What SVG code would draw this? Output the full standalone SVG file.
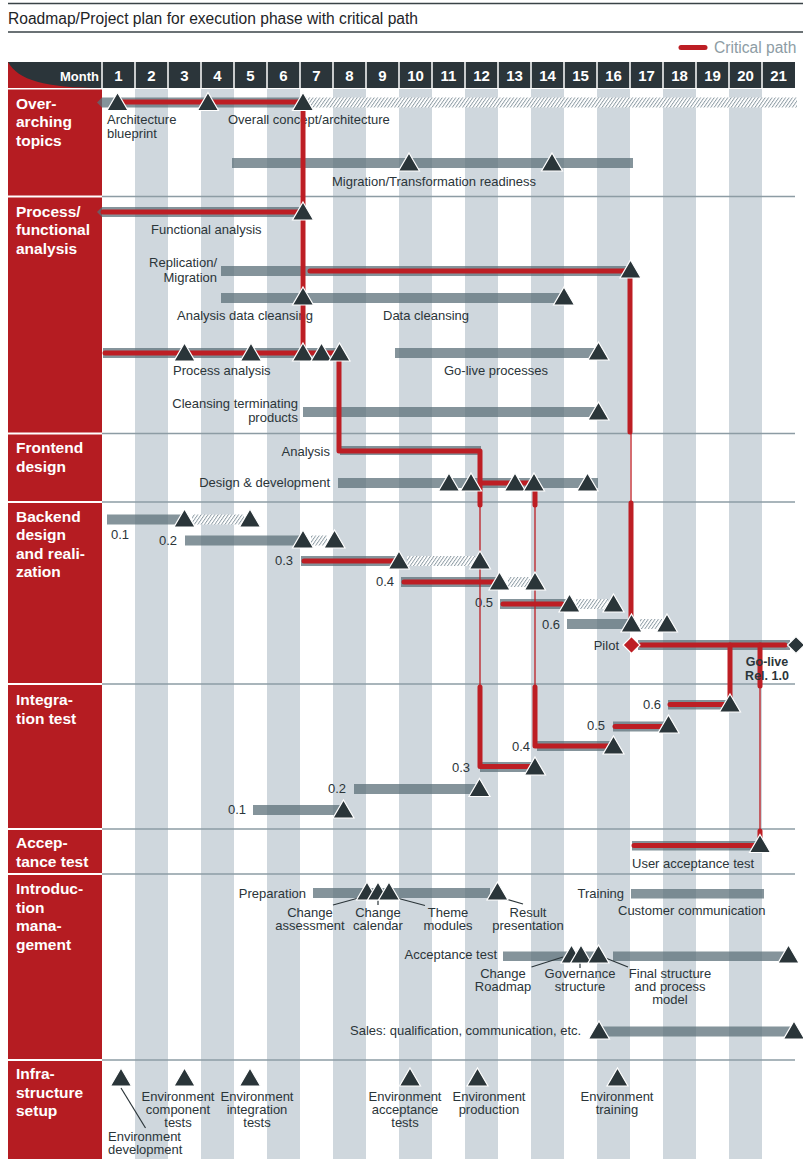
<svg xmlns="http://www.w3.org/2000/svg" xmlns:xlink="http://www.w3.org/1999/xlink" width="803" height="1159" viewBox="0 0 803 1159">
  <style>
    .txt{font-family:"Liberation Sans",Arial,sans-serif;font-size:13px;fill:#2b3539}
    .mid{text-anchor:middle}
    .end{text-anchor:end}
    .sec{font-family:"Liberation Sans",Arial,sans-serif;font-size:15.5px;font-weight:bold;fill:#fff}
    .mon{font-family:"Liberation Sans",Arial,sans-serif;font-size:15px;font-weight:bold;fill:#fff;text-anchor:middle}
    .stripe{fill:#cfd7dd}
    .rule{stroke:#8d9ca4;stroke-width:1.4}
    .wrule{stroke:#fff;stroke-width:2}
    .bar{fill:#5a6f78;fill-opacity:.74}
    .hatch{fill:url(#hatch)}
    .crit{stroke:#bd1e24;stroke-width:5;stroke-linecap:round;stroke-linejoin:round;fill:none}
    .thin{stroke:#bd1e24;stroke-width:1.3;fill:none}
    .ms{fill:#2a3539;stroke:#fff;stroke-width:1.2}
    .lead{stroke:#2b3539;stroke-width:1.2;fill:none}
  </style>
  <defs>
    <pattern id="hatch" width="3.4" height="12" patternUnits="userSpaceOnUse" patternTransform="skewX(-35)">
      <rect width="3.4" height="12" fill="#fff"/>
      <rect x="0" y="0" width="1.1" height="12" fill="#8d9ca4"/>
    </pattern>
    <path id="tri" d="M0,-10 L10.5,8 L-10.5,8 Z"/>
    <path id="dia" d="M0,-8.5 L8.5,0 L0,8.5 L-8.5,0 Z"/>
  </defs>

  <rect width="803" height="1159" fill="#fff"/>

  <!-- title block -->
  <g id="title">
    <line x1="8" y1="3.5" x2="803" y2="3.5" stroke="#3a4347" stroke-width="1.4"/>
    <text x="8" y="24" style="font-family:'Liberation Sans',Arial,sans-serif;font-size:15.6px;fill:#1e2427">Roadmap/Project plan for execution phase with critical path</text>
    <line x1="8" y1="32" x2="803" y2="32" stroke="#3a4347" stroke-width="1.4"/>
  </g>

  <!-- legend -->
  <g id="legend">
    <line x1="681" y1="47.5" x2="705" y2="47.5" stroke="#bd1e24" stroke-width="5" stroke-linecap="round"/>
    <text x="714" y="53" style="font-family:'Liberation Sans',Arial,sans-serif;font-size:15.6px;fill:#8d9ca4">Critical path</text>
  </g>

  <!-- month stripes -->
  <g id="stripes">
    <rect class="stripe" x="135" y="89" width="33" height="1070"/>
    <rect class="stripe" x="201" y="89" width="33" height="1070"/>
    <rect class="stripe" x="267" y="89" width="33" height="1070"/>
    <rect class="stripe" x="333" y="89" width="33" height="1070"/>
    <rect class="stripe" x="399" y="89" width="33" height="1070"/>
    <rect class="stripe" x="465" y="89" width="33" height="1070"/>
    <rect class="stripe" x="531" y="89" width="33" height="1070"/>
    <rect class="stripe" x="597" y="89" width="33" height="1070"/>
    <rect class="stripe" x="663" y="89" width="33" height="1070"/>
    <rect class="stripe" x="729" y="89" width="33" height="1070"/>
  </g>

  <!-- header row -->
  <g id="header">
    <rect x="8" y="62" width="787" height="26" fill="#2b353a"/>
    <path d="M8,62 C18,80 45,88 102,88 L8,88 Z" fill="#b51c22"/>
    <g stroke="#fff" stroke-width="1.5">
      <line x1="102" y1="62" x2="102" y2="88"/><line x1="135" y1="62" x2="135" y2="88"/>
      <line x1="168" y1="62" x2="168" y2="88"/><line x1="201" y1="62" x2="201" y2="88"/>
      <line x1="234" y1="62" x2="234" y2="88"/><line x1="267" y1="62" x2="267" y2="88"/>
      <line x1="300" y1="62" x2="300" y2="88"/><line x1="333" y1="62" x2="333" y2="88"/>
      <line x1="366" y1="62" x2="366" y2="88"/><line x1="399" y1="62" x2="399" y2="88"/>
      <line x1="432" y1="62" x2="432" y2="88"/><line x1="465" y1="62" x2="465" y2="88"/>
      <line x1="498" y1="62" x2="498" y2="88"/><line x1="531" y1="62" x2="531" y2="88"/>
      <line x1="564" y1="62" x2="564" y2="88"/><line x1="597" y1="62" x2="597" y2="88"/>
      <line x1="630" y1="62" x2="630" y2="88"/><line x1="663" y1="62" x2="663" y2="88"/>
      <line x1="696" y1="62" x2="696" y2="88"/><line x1="729" y1="62" x2="729" y2="88"/>
      <line x1="762" y1="62" x2="762" y2="88"/>
    </g>
    <text x="99" y="81" text-anchor="end" style="font-family:'Liberation Sans',Arial,sans-serif;font-size:13px;font-weight:bold;fill:#fff">Month</text>
    <text class="mon" x="118.5" y="81">1</text><text class="mon" x="151.5" y="81">2</text>
    <text class="mon" x="184.5" y="81">3</text><text class="mon" x="217.5" y="81">4</text>
    <text class="mon" x="250.5" y="81">5</text><text class="mon" x="283.5" y="81">6</text>
    <text class="mon" x="316.5" y="81">7</text><text class="mon" x="349.5" y="81">8</text>
    <text class="mon" x="382.5" y="81">9</text><text class="mon" x="415.5" y="81">10</text>
    <text class="mon" x="448.5" y="81">11</text><text class="mon" x="481.5" y="81">12</text>
    <text class="mon" x="514.5" y="81">13</text><text class="mon" x="547.5" y="81">14</text>
    <text class="mon" x="580.5" y="81">15</text><text class="mon" x="613.5" y="81">16</text>
    <text class="mon" x="646.5" y="81">17</text><text class="mon" x="679.5" y="81">18</text>
    <text class="mon" x="712.5" y="81">19</text><text class="mon" x="745.5" y="81">20</text>
    <text class="mon" x="778.5" y="81">21</text>
  </g>

  <!-- section column and row rules -->
  <g id="sections">
    <rect x="8" y="89.5" width="94" height="1069.5" fill="#b51c22"/>
    <line class="wrule" x1="8" y1="196.5" x2="102" y2="196.5"/>
    <line class="wrule" x1="8" y1="433.5" x2="102" y2="433.5"/>
    <line class="wrule" x1="8" y1="502" x2="102" y2="502"/>
    <line class="wrule" x1="8" y1="684" x2="102" y2="684"/>
    <line class="wrule" x1="8" y1="829" x2="102" y2="829"/>
    <line class="wrule" x1="8" y1="874" x2="102" y2="874"/>
    <line class="wrule" x1="8" y1="1060" x2="102" y2="1060"/>
    <line class="rule" x1="102" y1="196.5" x2="795" y2="196.5"/>
    <line class="rule" x1="102" y1="433.5" x2="795" y2="433.5"/>
    <line class="rule" x1="102" y1="502" x2="795" y2="502"/>
    <line class="rule" x1="102" y1="684" x2="795" y2="684"/>
    <line class="rule" x1="102" y1="829" x2="795" y2="829"/>
    <line class="rule" x1="102" y1="874" x2="795" y2="874"/>
    <line class="rule" x1="102" y1="1060" x2="795" y2="1060"/>
    <text class="sec" x="16"><tspan x="16" y="108.5">Over-</tspan><tspan x="16" y="127">arching</tspan><tspan x="16" y="145.5">topics</tspan></text>
    <text class="sec" x="16"><tspan x="16" y="216.5">Process/</tspan><tspan x="16" y="235">functional</tspan><tspan x="16" y="253.5">analysis</tspan></text>
    <text class="sec" x="16"><tspan x="16" y="453">Frontend</tspan><tspan x="16" y="471.5">design</tspan></text>
    <text class="sec" x="16"><tspan x="16" y="521.5">Backend</tspan><tspan x="16" y="540">design</tspan><tspan x="16" y="558.5">and reali-</tspan><tspan x="16" y="577">zation</tspan></text>
    <text class="sec" x="16"><tspan x="16" y="705">Integra-</tspan><tspan x="16" y="723.5">tion test</tspan></text>
    <text class="sec" x="16"><tspan x="16" y="848">Accep-</tspan><tspan x="16" y="866.5">tance test</tspan></text>
    <text class="sec" x="16"><tspan x="16" y="894">Introduc-</tspan><tspan x="16" y="912.5">tion</tspan><tspan x="16" y="931">mana-</tspan><tspan x="16" y="949.5">gement</tspan></text>
    <text class="sec" x="16"><tspan x="16" y="1079">Infra-</tspan><tspan x="16" y="1097.5">structure</tspan><tspan x="16" y="1116">setup</tspan></text>
  </g>

  <!-- task bars -->
  <g id="overall-concept">
    <path class="bar" d="M97,102.5 L102,97.5 H302 V107.5 H102 Z"/>
    <rect class="hatch" x="305" y="97.5" width="492" height="10"/>
    <text class="txt" x="107" y="124">Architecture</text>
    <text class="txt" x="107" y="138">blueprint</text>
    <text class="txt" x="228" y="124">Overall concept/architecture</text>
  </g>
  <g id="migration-readiness">
    <rect class="bar" x="232" y="158" width="401" height="10"/>
    <text class="txt" x="332" y="186">Migration/Transformation readiness</text>
  </g>
  <g id="functional-analysis">
    <path class="bar" d="M97,212 L102,207 H303 V217 H102 Z"/>
    <text class="txt" x="151" y="234">Functional analysis</text>
  </g>
  <g id="replication-migration">
    <rect class="bar" x="221" y="266" width="409" height="10"/>
    <text class="txt end" x="217" y="267">Replication/</text>
    <text class="txt end" x="217" y="281.5">Migration</text>
  </g>
  <g id="data-cleansing">
    <rect class="bar" x="221" y="293" width="341" height="10"/>
    <text class="txt" x="177" y="320">Analysis data cleansing</text>
    <text class="txt" x="383" y="320">Data cleansing</text>
  </g>
  <g id="process-analysis">
    <rect class="bar" x="103" y="348" width="237" height="10"/>
    <text class="txt" x="173" y="375">Process analysis</text>
  </g>
  <g id="golive-processes">
    <rect class="bar" x="395" y="348" width="202" height="10"/>
    <text class="txt" x="444" y="375">Go-live processes</text>
  </g>
  <g id="cleansing-terminating">
    <rect class="bar" x="303" y="407" width="294" height="10"/>
    <text class="txt end" x="298" y="408">Cleansing terminating</text>
    <text class="txt end" x="298" y="421.5">products</text>
  </g>
  <g id="frontend-analysis">
    <rect class="bar" x="340" y="446" width="141" height="9"/>
    <text class="txt end" x="330" y="456">Analysis</text>
  </g>
  <g id="design-development">
    <rect class="bar" x="338" y="478" width="260" height="10"/>
    <text class="txt end" x="330" y="487">Design &amp; development</text>
  </g>
  <g id="backend-releases">
    <rect class="bar" x="107" y="514.5" width="77" height="10"/>
    <rect class="hatch" x="192" y="514.5" width="52" height="10"/>
    <text class="txt" x="111" y="539">0.1</text>
    <rect class="bar" x="185" y="535.5" width="117" height="10"/>
    <rect class="hatch" x="311" y="535.5" width="16" height="10"/>
    <text class="txt" x="159" y="544.5">0.2</text>
    <rect class="bar" x="301" y="556" width="97" height="10"/>
    <rect class="hatch" x="407" y="556" width="68" height="10"/>
    <text class="txt" x="275" y="565">0.3</text>
    <rect class="bar" x="401" y="577" width="96" height="10"/>
    <rect class="hatch" x="508" y="577" width="22" height="10"/>
    <text class="txt" x="376" y="585.5">0.4</text>
    <rect class="bar" x="500" y="599" width="66" height="10"/>
    <rect class="hatch" x="576" y="599" width="32" height="10"/>
    <text class="txt" x="475" y="607">0.5</text>
    <rect class="bar" x="567" y="619" width="62" height="10"/>
    <rect class="hatch" x="640" y="619" width="22" height="10"/>
    <text class="txt" x="542" y="628.5">0.6</text>
  </g>
  <g id="pilot">
    <rect class="bar" x="638" y="640" width="152" height="10"/>
    <text class="txt end" x="619" y="650">Pilot</text>
  </g>
  <g id="integration-tests">
    <rect class="bar" x="253" y="805" width="88" height="10"/>
    <text class="txt" x="228" y="813.5">0.1</text>
    <rect class="bar" x="354" y="784" width="124" height="10"/>
    <text class="txt" x="328" y="793">0.2</text>
    <rect class="bar" x="480" y="762" width="54" height="10"/>
    <text class="txt" x="452" y="771.5">0.3</text>
    <rect class="bar" x="537" y="741" width="75" height="10"/>
    <text class="txt" x="512" y="750.5">0.4</text>
    <rect class="bar" x="613" y="721.5" width="55" height="10"/>
    <text class="txt" x="587" y="730">0.5</text>
    <rect class="bar" x="668" y="700" width="62" height="9.5"/>
    <text class="txt" x="643" y="708.5">0.6</text>
  </g>
  <g id="user-acceptance-test">
    <rect class="bar" x="632" y="841" width="128" height="9.5"/>
    <text class="txt" x="632" y="868">User acceptance test</text>
  </g>
  <g id="preparation">
    <rect class="bar" x="313" y="888" width="177" height="10"/>
    <text class="txt end" x="306" y="897.5">Preparation</text>
    <text class="txt mid" x="310" y="916.5">Change</text>
    <text class="txt mid" x="310" y="929.5">assessment</text>
    <text class="txt mid" x="378" y="916.5">Change</text>
    <text class="txt mid" x="378" y="929.5">calendar</text>
    <text class="txt mid" x="448" y="916.5">Theme</text>
    <text class="txt mid" x="448" y="929.5">modules</text>
    <text class="txt mid" x="528" y="916.5">Result</text>
    <text class="txt mid" x="528" y="929.5">presentation</text>
    <path class="lead" d="M333,905 L364,896.5"/>
    <path class="lead" d="M378,899 V905"/>
    <path class="lead" d="M425,905.5 L393,897"/>
    <path class="lead" d="M523,904 L502,898"/>
  </g>
  <g id="training">
    <rect class="bar" x="631" y="889" width="133" height="9.5"/>
    <text class="txt end" x="624" y="897.5">Training</text>
    <text class="txt" x="618" y="915">Customer communication</text>
  </g>
  <g id="acceptance-test">
    <rect class="bar" x="503" y="951.5" width="95" height="9.5"/>
    <rect class="bar" x="613" y="951.5" width="177" height="9.5"/>
    <text class="txt end" x="497" y="958.5">Acceptance test</text>
    <text class="txt mid" x="503" y="978">Change</text>
    <text class="txt mid" x="503" y="991">Roadmap</text>
    <text class="txt mid" x="580" y="978">Governance</text>
    <text class="txt mid" x="580" y="991">structure</text>
    <text class="txt mid" x="670" y="978">Final structure</text>
    <text class="txt mid" x="670" y="991">and process</text>
    <text class="txt mid" x="670" y="1004">model</text>
    <path class="lead" d="M531.5,967 L563,957"/>
    <path class="lead" d="M580,955 V968"/>
    <path class="lead" d="M628,967 L603,957"/>
  </g>
  <g id="sales">
    <rect class="bar" x="600" y="1026.5" width="192" height="10"/>
    <text class="txt" x="350" y="1035">Sales: qualification, communication, etc.</text>
  </g>
  <g id="infrastructure">
    <text class="txt mid" x="178" y="1100.5">Environment</text>
    <text class="txt mid" x="178" y="1113.5">component</text>
    <text class="txt mid" x="178" y="1126.5">tests</text>
    <text class="txt mid" x="257" y="1100.5">Environment</text>
    <text class="txt mid" x="257" y="1113.5">integration</text>
    <text class="txt mid" x="257" y="1126.5">tests</text>
    <text class="txt mid" x="405" y="1100.5">Environment</text>
    <text class="txt mid" x="405" y="1113.5">acceptance</text>
    <text class="txt mid" x="405" y="1126.5">tests</text>
    <text class="txt mid" x="489" y="1100.5">Environment</text>
    <text class="txt mid" x="489" y="1113.5">production</text>
    <text class="txt mid" x="617" y="1100.5">Environment</text>
    <text class="txt mid" x="617" y="1113.5">training</text>
    <text class="txt" x="108" y="1141">Environment</text>
    <text class="txt" x="108" y="1154">development</text>
    <path class="lead" d="M121,1088 L145.5,1128"/>
  </g>

  <!-- critical path connectors -->
  <g id="connectors">
    <path class="crit" d="M118,102 H303 V353"/>
    <path class="crit" d="M103,212 H303"/>
    <path class="crit" d="M310,271 H630 V432"/>
    <path class="thin" d="M631,432 V503"/>
    <path class="crit" d="M631,503 V624"/>
    <path class="crit" d="M105,353 H339 V451 H480 V483 H533"/>
    <path class="crit" d="M480,483 V505"/>
    <path class="thin" d="M480,505 V686"/>
    <path class="crit" d="M480,687 V766.5 H533"/>
    <path class="crit" d="M535,483 V505"/>
    <path class="thin" d="M535,505 V686"/>
    <path class="crit" d="M535,687 V746 H611"/>
    <path class="crit" d="M304,561 H398"/>
    <path class="crit" d="M404,582 H495"/>
    <path class="crit" d="M503,604 H562"/>
    <path class="crit" d="M641,645 H785"/>
    <path class="crit" d="M730,645 V704.5 H670"/>
    <path class="crit" d="M760,645 V686"/>
    <path class="thin" d="M760,686 V832"/>
    <path class="crit" d="M760,831 V845.5 H634"/>
    <path class="crit" d="M615,726.5 H665"/>
  </g>

  <!-- milestones -->
  <g id="milestones" class="ms">
    <use xlink:href="#tri" x="117.5" y="102.5"/>
    <use xlink:href="#tri" x="208" y="102.5"/>
    <use xlink:href="#tri" x="303" y="102.5"/>
    <use xlink:href="#tri" x="409" y="163"/>
    <use xlink:href="#tri" x="552" y="163"/>
    <use xlink:href="#tri" x="303" y="212"/>
    <use xlink:href="#tri" x="630.5" y="270"/>
    <use xlink:href="#tri" x="303" y="297"/>
    <use xlink:href="#tri" x="564" y="297"/>
    <use xlink:href="#tri" x="184.5" y="353"/>
    <use xlink:href="#tri" x="251" y="353"/>
    <use xlink:href="#tri" x="303" y="353"/>
    <use xlink:href="#tri" x="321.5" y="353"/>
    <use xlink:href="#tri" x="339.5" y="353"/>
    <use xlink:href="#tri" x="598.5" y="352"/>
    <use xlink:href="#tri" x="598.5" y="412"/>
    <use xlink:href="#tri" x="449" y="483"/>
    <use xlink:href="#tri" x="471" y="483"/>
    <use xlink:href="#tri" x="515" y="483"/>
    <use xlink:href="#tri" x="534" y="483"/>
    <use xlink:href="#tri" x="587.5" y="483"/>
    <use xlink:href="#tri" x="184.5" y="519"/>
    <use xlink:href="#tri" x="250" y="519"/>
    <use xlink:href="#tri" x="303" y="540"/>
    <use xlink:href="#tri" x="334.5" y="540"/>
    <use xlink:href="#tri" x="399" y="561"/>
    <use xlink:href="#tri" x="480" y="561"/>
    <use xlink:href="#tri" x="499.5" y="582"/>
    <use xlink:href="#tri" x="535" y="582"/>
    <use xlink:href="#tri" x="569.5" y="604"/>
    <use xlink:href="#tri" x="613.5" y="604"/>
    <use xlink:href="#tri" x="631.5" y="624"/>
    <use xlink:href="#tri" x="667" y="624"/>
    <use xlink:href="#dia" x="631.5" y="645" style="fill:#bd1e24"/>
    <use xlink:href="#dia" x="796" y="645"/>
    <use xlink:href="#tri" x="730" y="704"/>
    <use xlink:href="#tri" x="668.5" y="725"/>
    <use xlink:href="#tri" x="613.5" y="746"/>
    <use xlink:href="#tri" x="535" y="767"/>
    <use xlink:href="#tri" x="479.5" y="788.5"/>
    <use xlink:href="#tri" x="343.5" y="810"/>
    <use xlink:href="#tri" x="760" y="844.5"/>
    <use xlink:href="#tri" x="367" y="892"/>
    <use xlink:href="#tri" x="378" y="892"/>
    <use xlink:href="#tri" x="389" y="892"/>
    <use xlink:href="#tri" x="497.5" y="892"/>
    <use xlink:href="#tri" x="571.5" y="955"/>
    <use xlink:href="#tri" x="581" y="955"/>
    <use xlink:href="#tri" x="598.5" y="955"/>
    <use xlink:href="#tri" x="788.5" y="955"/>
    <use xlink:href="#tri" x="599" y="1031"/>
    <use xlink:href="#tri" x="794" y="1031"/>
    <use xlink:href="#tri" x="121" y="1078"/>
    <use xlink:href="#tri" x="184.5" y="1078"/>
    <use xlink:href="#tri" x="250" y="1078"/>
    <use xlink:href="#tri" x="410" y="1078"/>
    <use xlink:href="#tri" x="477.5" y="1078"/>
    <use xlink:href="#tri" x="617.5" y="1078"/>
  </g>

  <!-- release label -->
  <g id="golive-release">
    <text class="mid" x="767" y="666" style="font-family:'Liberation Sans',Arial,sans-serif;font-size:12.5px;font-weight:bold;fill:#2b3539">Go-live</text>
    <text class="mid" x="767" y="679.5" style="font-family:'Liberation Sans',Arial,sans-serif;font-size:12.5px;font-weight:bold;fill:#2b3539">Rel. 1.0</text>
  </g>
</svg>
